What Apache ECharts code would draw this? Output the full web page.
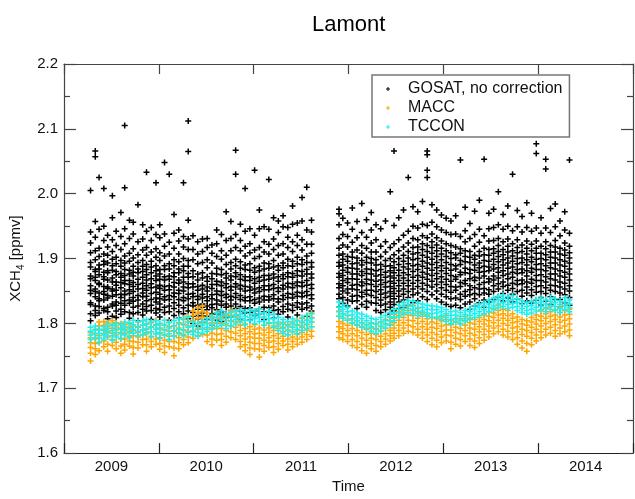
<!DOCTYPE html>
<html><head><meta charset="utf-8">
<script src="https://cdn.jsdelivr.net/npm/echarts@6/dist/echarts.min.js"></script>
<style>html,body{margin:0;padding:0;background:#fff}#c{width:635px;height:499px}</style>
</head><body><div id="c"></div>
<script>
const yearLabels = ['2009','2010','2011','2012','2013','2014'];
const seriesNames = ['GOSAT, no correction','MACC','TCCON'];

const dates = [
2009.28,2009.33,2009.37,2009.42,2009.46,2009.51,2009.55,2009.60,
2009.64,2009.69,2009.73,2009.78,2009.83,2009.87,2009.92,2009.97,
2010.01,2010.06,2010.11,2010.16,2010.21,2010.26,2010.31,
2010.36,2010.41,2010.46,2010.51,2010.56,2010.61,2010.66,2010.71,2010.76,
2010.81,2010.86,2010.91,2010.96,2011.01,2011.06,2011.11,2011.16,2011.21,2011.26,
2011.31,2011.36,2011.41,2011.46,2011.51,2011.56,2011.61,
2011.90,2011.94,2011.99,2012.04,2012.09,2012.14,2012.19,2012.24,2012.29,
2012.34,2012.39,2012.44,2012.48,2012.53,2012.58,2012.63,2012.68,
2012.73,2012.78,2012.83,2012.88,2012.93,2012.98,2013.03,2013.08,
2013.13,2013.18,2013.23,2013.28,2013.33,2013.38,2013.43,2013.48,
2013.53,2013.58,2013.63,2013.68,2013.73,2013.78,2013.83,2013.88,
2013.93,2013.98,2014.03,2014.08,2014.13,2014.18,2014.23,2014.28,2014.33
];

const gosatVals = [
[1.804,1.815,1.829,1.832,1.846,1.851,1.858,1.869,1.873,1.887,1.894,1.909,1.924,1.941,2.005],
[1.812,1.820,1.827,1.841,1.849,1.853,1.866,1.871,1.880,1.883,1.898,1.912,1.933,1.957,2.057,2.066],
[1.816,1.826,1.835,1.838,1.847,1.860,1.862,1.875,1.884,1.890,1.903,1.916,1.945,2.025],
[1.820,1.823,1.836,1.845,1.849,1.857,1.868,1.872,1.879,1.891,1.896,1.907,1.928,1.950,2.008],
[1.807,1.818,1.825,1.839,1.843,1.854,1.856,1.867,1.878,1.881,1.893,1.905,1.918,1.936],
[1.811,1.827,1.830,1.842,1.850,1.853,1.864,1.870,1.882,1.889,1.899,1.911,1.929,1.963,1.997],
[1.809,1.819,1.828,1.833,1.844,1.851,1.859,1.864,1.875,1.880,1.892,1.902,1.920,1.942],
[1.814,1.822,1.831,1.840,1.845,1.855,1.863,1.871,1.877,1.888,1.897,1.914,1.934,1.971],
[1.818,1.828,1.835,1.844,1.850,1.861,1.866,1.874,1.883,1.893,1.904,1.923,1.946,2.009,2.105],
[1.808,1.817,1.831,1.836,1.846,1.852,1.860,1.866,1.876,1.882,1.896,1.908,1.931,1.959],
[1.815,1.825,1.834,1.840,1.849,1.857,1.863,1.873,1.879,1.888,1.901,1.915,1.938,1.956],
[1.804,1.817,1.827,1.836,1.843,1.853,1.860,1.868,1.878,1.884,1.894,1.906,1.926,1.983],
[1.813,1.822,1.830,1.841,1.847,1.854,1.862,1.871,1.880,1.888,1.897,1.913,1.930,1.952],
[1.819,1.826,1.835,1.842,1.851,1.858,1.867,1.875,1.883,1.891,1.905,1.917,1.942,2.033],
[1.806,1.820,1.828,1.837,1.846,1.855,1.861,1.869,1.878,1.887,1.896,1.910,1.928,1.948],
[1.816,1.823,1.833,1.839,1.848,1.856,1.866,1.873,1.881,1.889,1.902,1.915,1.937,2.017],
[1.810,1.821,1.830,1.838,1.845,1.854,1.859,1.868,1.876,1.883,1.897,1.909,1.932,1.952],
[1.817,1.825,1.836,1.841,1.851,1.857,1.867,1.872,1.883,1.889,1.904,1.919,1.938,2.048],
[1.805,1.818,1.827,1.837,1.843,1.852,1.858,1.868,1.873,1.884,1.892,1.907,1.925,2.030],
[1.812,1.823,1.832,1.841,1.847,1.856,1.863,1.872,1.878,1.889,1.898,1.916,1.939,1.968],
[1.808,1.818,1.828,1.837,1.846,1.851,1.862,1.867,1.878,1.884,1.895,1.907,1.927,1.944],
[1.815,1.824,1.835,1.840,1.850,1.856,1.864,1.871,1.881,1.888,1.900,1.918,1.934,2.017],
[1.807,1.819,1.828,1.838,1.845,1.855,1.861,1.871,1.877,1.888,1.897,1.914,1.930,1.959,2.065,2.112],
[1.800,1.811,1.817,1.827,1.832,1.841,1.846,1.856,1.861,1.872,1.881,1.898,1.914,1.935],
[1.796,1.807,1.812,1.822,1.828,1.837,1.842,1.851,1.857,1.867,1.876,1.892,1.907,1.926],
[1.802,1.811,1.816,1.825,1.830,1.839,1.845,1.853,1.859,1.870,1.878,1.894,1.911,1.930],
[1.806,1.811,1.821,1.827,1.835,1.841,1.850,1.856,1.865,1.872,1.886,1.898,1.917,1.931],
[1.798,1.809,1.815,1.824,1.829,1.838,1.844,1.854,1.860,1.869,1.877,1.893,1.908,1.921],
[1.805,1.815,1.821,1.830,1.836,1.845,1.850,1.860,1.865,1.876,1.885,1.903,1.923,1.944],
[1.803,1.812,1.818,1.828,1.834,1.843,1.849,1.858,1.864,1.875,1.883,1.899,1.912,1.937],
[1.809,1.815,1.825,1.830,1.840,1.845,1.855,1.861,1.870,1.877,1.891,1.905,1.928,1.972],
[1.810,1.820,1.827,1.836,1.842,1.851,1.857,1.867,1.873,1.884,1.894,1.912,1.931,1.957],
[1.812,1.823,1.830,1.840,1.846,1.856,1.861,1.872,1.878,1.889,1.899,1.917,1.937,2.030,2.067],
[1.807,1.819,1.826,1.837,1.843,1.853,1.859,1.868,1.875,1.885,1.895,1.912,1.928,1.953],
[1.816,1.823,1.835,1.840,1.850,1.857,1.866,1.872,1.883,1.890,1.904,1.919,1.942,2.008],
[1.805,1.817,1.824,1.835,1.841,1.851,1.856,1.866,1.872,1.882,1.892,1.909,1.923,1.946],
[1.812,1.819,1.831,1.837,1.847,1.853,1.862,1.869,1.879,1.886,1.900,1.913,1.936,2.036],
[1.815,1.822,1.833,1.839,1.849,1.855,1.865,1.871,1.881,1.888,1.903,1.917,1.946,1.975],
[1.806,1.818,1.825,1.836,1.842,1.852,1.858,1.867,1.874,1.884,1.893,1.910,1.926,1.949],
[1.817,1.824,1.836,1.841,1.852,1.858,1.868,1.874,1.885,1.892,1.907,1.922,1.945,2.022],
[1.808,1.820,1.827,1.838,1.844,1.854,1.860,1.870,1.876,1.887,1.897,1.914,1.930,1.963],
[1.814,1.821,1.833,1.838,1.849,1.855,1.865,1.872,1.882,1.889,1.905,1.920,1.940,1.958],
[1.818,1.826,1.837,1.843,1.853,1.859,1.869,1.875,1.886,1.893,1.907,1.923,1.949,1.966],
[1.810,1.822,1.830,1.840,1.846,1.856,1.862,1.872,1.878,1.889,1.899,1.917,1.933,1.948],
[1.820,1.828,1.839,1.845,1.855,1.861,1.871,1.877,1.888,1.896,1.911,1.926,1.953,1.981],
[1.813,1.825,1.832,1.842,1.848,1.858,1.864,1.874,1.881,1.892,1.902,1.920,1.936,1.955],
[1.822,1.830,1.841,1.847,1.857,1.863,1.873,1.880,1.891,1.898,1.913,1.929,1.958,1.994],
[1.811,1.824,1.832,1.843,1.849,1.859,1.866,1.876,1.883,1.894,1.904,1.922,1.944,2.010],
[1.819,1.827,1.838,1.844,1.854,1.860,1.870,1.876,1.887,1.894,1.908,1.922,1.941,1.959],
[1.825,1.838,1.845,1.855,1.861,1.871,1.877,1.888,1.894,1.905,1.916,1.931,1.952,1.969,1.976],
[1.831,1.840,1.850,1.858,1.866,1.874,1.882,1.890,1.899,1.907,1.921,1.937,1.962],
[1.827,1.836,1.847,1.853,1.863,1.869,1.879,1.886,1.896,1.903,1.918,1.934,1.955],
[1.834,1.842,1.853,1.859,1.869,1.876,1.885,1.892,1.902,1.910,1.925,1.945,1.978],
[1.823,1.835,1.843,1.852,1.860,1.868,1.876,1.884,1.893,1.901,1.913,1.932,1.957],
[1.829,1.841,1.848,1.858,1.864,1.874,1.880,1.890,1.897,1.908,1.920,1.940,1.985],
[1.825,1.834,1.845,1.851,1.861,1.868,1.877,1.884,1.894,1.902,1.916,1.933,1.960],
[1.832,1.843,1.851,1.860,1.867,1.876,1.883,1.893,1.900,1.910,1.924,1.944,1.971],
[1.820,1.831,1.840,1.849,1.857,1.865,1.873,1.881,1.890,1.898,1.910,1.929,1.952],
[1.817,1.828,1.836,1.845,1.852,1.860,1.867,1.875,1.883,1.891,1.903,1.919,1.946],
[1.821,1.830,1.840,1.847,1.856,1.863,1.871,1.879,1.888,1.897,1.910,1.926,1.958],
[1.814,1.825,1.833,1.842,1.849,1.857,1.865,1.873,1.881,1.889,1.900,1.917,2.003],
[1.819,1.829,1.838,1.846,1.854,1.862,1.870,1.878,1.886,1.895,1.906,1.923,1.951,2.066],
[1.823,1.833,1.842,1.850,1.858,1.866,1.874,1.882,1.891,1.900,1.912,1.929,1.963],
[1.825,1.836,1.845,1.853,1.862,1.870,1.878,1.887,1.896,1.905,1.918,1.936,1.975],
[1.828,1.840,1.849,1.858,1.866,1.875,1.884,1.892,1.901,1.911,1.924,1.942,2.025],
[1.832,1.844,1.853,1.862,1.871,1.880,1.889,1.898,1.907,1.917,1.931,1.950,1.980],
[1.835,1.847,1.857,1.866,1.874,1.883,1.891,1.900,1.909,1.918,1.929,1.947,1.972],
[1.841,1.853,1.862,1.871,1.879,1.888,1.896,1.905,1.914,1.923,1.935,1.953,1.988],
[1.837,1.849,1.859,1.868,1.876,1.885,1.893,1.902,1.911,1.920,1.932,1.951,2.025,2.036,2.060,2.066],
[1.844,1.856,1.865,1.874,1.882,1.891,1.899,1.908,1.917,1.926,1.938,1.956,1.983],
[1.838,1.850,1.860,1.869,1.877,1.886,1.894,1.903,1.912,1.921,1.932,1.949,1.975],
[1.833,1.845,1.855,1.864,1.872,1.881,1.889,1.898,1.907,1.916,1.927,1.944,1.967],
[1.829,1.841,1.851,1.860,1.868,1.877,1.885,1.894,1.903,1.912,1.923,1.940,1.962],
[1.826,1.838,1.848,1.857,1.865,1.874,1.882,1.891,1.900,1.909,1.920,1.937,1.958],
[1.828,1.839,1.851,1.856,1.868,1.872,1.884,1.889,1.901,1.906,1.918,1.938,1.966],
[1.824,1.837,1.845,1.857,1.863,1.875,1.879,1.891,1.897,1.908,1.915,1.934,2.052],
[1.830,1.842,1.849,1.861,1.866,1.878,1.885,1.895,1.903,1.912,1.926,1.943,1.979],
[1.822,1.833,1.844,1.852,1.858,1.869,1.877,1.883,1.894,1.902,1.911,1.931,1.954],
[1.827,1.838,1.846,1.855,1.866,1.871,1.882,1.890,1.899,1.905,1.919,1.937,1.973],
[1.832,1.844,1.853,1.860,1.870,1.879,1.886,1.893,1.904,1.911,1.925,1.945,1.990],
[1.825,1.836,1.847,1.854,1.863,1.873,1.880,1.888,1.897,1.906,1.916,1.935,2.053],
[1.833,1.845,1.852,1.864,1.869,1.881,1.887,1.896,1.905,1.914,1.927,1.946,1.970],
[1.837,1.849,1.858,1.867,1.873,1.884,1.891,1.899,1.908,1.915,1.928,1.948,1.976],
[1.841,1.853,1.861,1.870,1.879,1.886,1.895,1.903,1.911,1.920,1.931,1.952,2.003],
[1.835,1.846,1.857,1.864,1.874,1.881,1.890,1.898,1.906,1.914,1.926,1.945,1.968],
[1.839,1.851,1.859,1.869,1.876,1.885,1.893,1.901,1.910,1.919,1.930,1.950,1.981],
[1.833,1.845,1.854,1.862,1.871,1.879,1.887,1.896,1.904,1.912,1.923,1.943,2.030],
[1.838,1.849,1.860,1.866,1.877,1.883,1.892,1.900,1.909,1.917,1.929,1.949,1.974],
[1.830,1.842,1.851,1.861,1.867,1.878,1.884,1.894,1.901,1.911,1.921,1.941,1.965],
[1.835,1.847,1.856,1.864,1.873,1.881,1.890,1.898,1.907,1.916,1.927,1.948,1.986],
[1.831,1.843,1.852,1.862,1.868,1.879,1.885,1.895,1.902,1.912,1.922,1.942,1.970],
[1.836,1.848,1.857,1.866,1.874,1.883,1.891,1.899,1.908,1.916,1.927,1.947,2.062,2.077],
[1.828,1.840,1.849,1.858,1.866,1.875,1.883,1.892,1.900,1.908,1.919,1.939,1.963],
[1.834,1.846,1.855,1.864,1.872,1.881,1.889,1.898,1.906,1.915,1.926,1.947,2.038,2.053],
[1.829,1.841,1.851,1.859,1.869,1.876,1.886,1.893,1.902,1.910,1.920,1.940,1.977],
[1.837,1.849,1.858,1.867,1.876,1.884,1.893,1.901,1.910,1.918,1.928,1.949,1.984],
[1.825,1.837,1.847,1.856,1.864,1.873,1.881,1.890,1.898,1.907,1.916,1.935,1.958],
[1.832,1.844,1.853,1.862,1.871,1.879,1.888,1.896,1.905,1.913,1.924,1.944,1.972],
[1.828,1.840,1.850,1.858,1.867,1.876,1.884,1.893,1.901,1.909,1.919,1.939,2.052]
];

const maccVals = [
[1.742,1.754,1.763,1.770,1.778,1.786],[1.752,1.761,1.769,1.776,1.784,1.791],[1.758,1.770,1.781,1.790,1.796,1.802],
[1.764,1.773,1.784,1.791,1.797,1.803],[1.757,1.768,1.779,1.788,1.795,1.801],[1.766,1.775,1.785,1.792,1.798,1.804],
[1.761,1.771,1.782,1.790,1.796,1.801],[1.754,1.765,1.776,1.786,1.793,1.800],
[1.759,1.768,1.776,1.784,1.791,1.798],[1.765,1.773,1.780,1.787,1.794,1.800],[1.753,1.763,1.772,1.781,1.789,1.796],
[1.762,1.771,1.779,1.786,1.794,1.802],[1.767,1.775,1.782,1.790,1.797,1.804],[1.757,1.767,1.776,1.784,1.791,1.799],
[1.764,1.772,1.779,1.787,1.794,1.801],[1.768,1.776,1.784,1.791,1.798,1.805],
[1.760,1.769,1.777,1.785,1.792,1.800],[1.755,1.765,1.774,1.782,1.790,1.797],[1.764,1.772,1.780,1.788,1.795,1.802],
[1.750,1.762,1.772,1.781,1.789,1.796],[1.761,1.770,1.778,1.786,1.793,1.801],[1.767,1.775,1.783,1.790,1.798,1.806],
[1.770,1.779,1.788,1.796,1.803,1.811],
[1.777,1.787,1.796,1.804,1.812,1.819],[1.781,1.791,1.800,1.808,1.816,1.824],[1.783,1.793,1.802,1.810,1.818,1.827],
[1.772,1.782,1.791,1.800,1.808,1.816],[1.767,1.776,1.785,1.793,1.801,1.809],[1.774,1.783,1.792,1.800,1.809,1.817],
[1.766,1.775,1.784,1.792,1.800,1.808],[1.771,1.780,1.789,1.797,1.805,1.813],[1.778,1.787,1.796,1.804,1.812,1.820],
[1.775,1.785,1.794,1.802,1.810,1.818],[1.764,1.772,1.781,1.789,1.797,1.804],[1.758,1.767,1.776,1.784,1.792,1.799],
[1.752,1.762,1.771,1.779,1.787,1.795],[1.761,1.769,1.777,1.784,1.791,1.798],[1.748,1.760,1.769,1.777,1.785,1.793],
[1.757,1.766,1.774,1.782,1.790,1.797],[1.763,1.771,1.778,1.786,1.793,1.800],[1.755,1.764,1.773,1.781,1.789,1.796],
[1.760,1.769,1.777,1.784,1.792,1.799],
[1.766,1.773,1.780,1.787,1.794,1.801],[1.759,1.768,1.776,1.783,1.790,1.798],[1.764,1.772,1.779,1.787,1.794,1.802],
[1.768,1.776,1.783,1.790,1.798,1.805],[1.771,1.779,1.786,1.794,1.801,1.808],[1.775,1.783,1.790,1.798,1.805,1.812],
[1.780,1.788,1.795,1.802,1.809,1.816],
[1.778,1.787,1.795,1.803,1.811,1.819],[1.775,1.784,1.792,1.800,1.808,1.815],[1.772,1.781,1.789,1.797,1.805,1.812],
[1.766,1.775,1.784,1.792,1.800,1.807],[1.763,1.772,1.781,1.789,1.797,1.804],[1.758,1.768,1.777,1.786,1.794,1.801],
[1.754,1.765,1.774,1.783,1.791,1.798],[1.761,1.769,1.777,1.785,1.793,1.800],[1.757,1.766,1.775,1.783,1.791,1.799],
[1.764,1.772,1.780,1.788,1.795,1.802],[1.768,1.776,1.784,1.792,1.799,1.806],[1.773,1.781,1.789,1.797,1.804,1.810],
[1.777,1.785,1.793,1.801,1.808,1.814],[1.781,1.789,1.797,1.805,1.812,1.818],[1.785,1.793,1.801,1.809,1.816,1.823],
[1.788,1.797,1.805,1.813,1.820,1.827],[1.786,1.795,1.804,1.812,1.820,1.828],
[1.782,1.791,1.800,1.808,1.816,1.823],[1.777,1.786,1.795,1.803,1.811,1.817],[1.772,1.782,1.791,1.799,1.807,1.813],
[1.767,1.777,1.786,1.794,1.802,1.809],[1.764,1.774,1.783,1.792,1.800,1.807],[1.770,1.779,1.788,1.796,1.804,1.810],
[1.773,1.782,1.790,1.798,1.806,1.812],[1.761,1.771,1.781,1.790,1.798,1.805],
[1.768,1.777,1.786,1.794,1.802,1.808],[1.765,1.775,1.784,1.792,1.800,1.807],[1.772,1.781,1.789,1.797,1.805,1.811],
[1.766,1.776,1.785,1.793,1.801,1.808],[1.763,1.773,1.782,1.791,1.799,1.806],[1.769,1.778,1.787,1.795,1.803,1.809],
[1.774,1.783,1.791,1.799,1.806,1.813],[1.779,1.788,1.796,1.804,1.811,1.818],
[1.784,1.793,1.801,1.809,1.816,1.823],[1.787,1.796,1.805,1.813,1.820,1.828],[1.782,1.791,1.800,1.808,1.815,1.822],
[1.779,1.788,1.797,1.805,1.812,1.820],[1.775,1.784,1.793,1.801,1.808,1.815],[1.768,1.778,1.787,1.795,1.803,1.810],
[1.762,1.773,1.783,1.791,1.799,1.806],[1.757,1.769,1.780,1.789,1.797,1.804],
[1.767,1.777,1.786,1.794,1.802,1.809],[1.773,1.782,1.791,1.799,1.806,1.813],[1.778,1.787,1.796,1.804,1.811,1.819],
[1.782,1.791,1.800,1.808,1.815,1.823],[1.785,1.794,1.803,1.811,1.818,1.826],[1.780,1.789,1.798,1.806,1.813,1.821],
[1.784,1.793,1.802,1.810,1.817,1.825],[1.787,1.796,1.805,1.813,1.820,1.828],[1.781,1.790,1.799,1.807,1.814,1.822]
];

const tcconVals = [
[1.775,1.782,1.788,1.794],[1.778,1.784,1.790,1.796],[1.771,1.778,1.785,1.791],[1.776,1.782,1.789,1.795],
[1.780,1.786,1.792,1.799],[1.774,1.781,1.789,1.797],[1.779,1.786,1.793,1.800],[1.777,1.784,1.791,1.798],
[1.782,1.789,1.795,1.802],[1.778,1.786,1.793,1.801],[1.785,1.791,1.798,1.805],[1.781,1.788,1.795,1.803],
[1.783,1.790,1.797,1.804],[1.786,1.792,1.799,1.806],[1.780,1.787,1.795,1.802],[1.784,1.791,1.797,1.804],
[1.778,1.786,1.793,1.800],[1.782,1.790,1.797,1.805],[1.775,1.784,1.793,1.801],[1.780,1.788,1.796,1.804],
[1.784,1.791,1.799,1.807],[1.781,1.790,1.799,1.808],[1.786,1.794,1.802,1.810],
[1.783,1.789,1.796,1.802],[1.780,1.786,1.793,1.800],[1.785,1.791,1.797,1.803],[1.788,1.794,1.800,1.807],
[1.791,1.798,1.805,1.811],[1.795,1.802,1.809,1.816],[1.797,1.805,1.812,1.819],[1.792,1.800,1.808,1.815],
[1.796,1.803,1.810,1.817],
[1.799,1.806,1.812,1.819],[1.802,1.808,1.814,1.820],[1.798,1.805,1.811,1.818],[1.804,1.809,1.815,1.821],
[1.800,1.807,1.813,1.819],[1.803,1.809,1.815,1.822],[1.797,1.804,1.810,1.817],[1.801,1.807,1.813,1.819],
[1.794,1.801,1.807,1.814],[1.789,1.796,1.802,1.809],
[1.785,1.792,1.799,1.806],[1.782,1.789,1.796,1.803],[1.787,1.794,1.800,1.807],[1.784,1.791,1.797,1.804],
[1.789,1.796,1.802,1.809],[1.792,1.799,1.805,1.812],[1.795,1.802,1.808,1.815],
[1.811,1.818,1.825,1.833],[1.808,1.815,1.822,1.829],[1.805,1.812,1.818,1.825],[1.801,1.807,1.813,1.819],
[1.798,1.804,1.810,1.816],[1.795,1.801,1.807,1.814],[1.792,1.798,1.804,1.811],[1.788,1.795,1.801,1.808],
[1.785,1.792,1.799,1.806],
[1.789,1.796,1.802,1.809],[1.793,1.799,1.805,1.812],[1.798,1.804,1.810,1.817],[1.804,1.810,1.816,1.822],
[1.810,1.816,1.822,1.828],[1.814,1.820,1.826,1.832],[1.817,1.823,1.829,1.835],[1.815,1.821,1.827,1.834],
[1.812,1.818,1.824,1.831],[1.814,1.819,1.825,1.830],[1.811,1.816,1.822,1.828],[1.809,1.815,1.821,1.827],
[1.810,1.816,1.821,1.826],[1.806,1.812,1.818,1.824],[1.803,1.809,1.815,1.821],[1.800,1.806,1.812,1.818],
[1.802,1.807,1.813,1.819],[1.799,1.805,1.811,1.817],[1.803,1.808,1.814,1.820],[1.806,1.812,1.818,1.823],
[1.809,1.815,1.821,1.827],[1.812,1.818,1.824,1.830],[1.815,1.821,1.827,1.832],[1.818,1.824,1.830,1.836],
[1.821,1.827,1.833,1.839],[1.824,1.830,1.836,1.842],[1.826,1.832,1.838,1.844],[1.823,1.829,1.835,1.841],
[1.825,1.831,1.837,1.843],[1.820,1.826,1.832,1.838],[1.817,1.823,1.829,1.835],[1.814,1.820,1.826,1.832],
[1.816,1.822,1.828,1.834],[1.819,1.825,1.831,1.837],[1.821,1.827,1.833,1.839],[1.818,1.824,1.830,1.836],
[1.822,1.828,1.834,1.840],[1.820,1.826,1.832,1.838],[1.817,1.823,1.829,1.835],[1.821,1.827,1.833,1.839],
[1.818,1.824,1.830,1.836]
];

function toPoints(vals) {
  const out = [];
  dates.forEach((d, i) => vals[i].forEach(v => out.push([d, v])));
  return out;
}

const FONT = '"Liberation Sans", Arial, Helvetica, sans-serif';
const PLUS = 'path://M2.25,0H3.75V2.25H6V3.75H3.75V6H2.25V3.75H0V2.25H2.25Z';
const colors = ['#000000', '#FFA500', '#1EEEEE'];
const axisCol = '#444';

const chart = echarts.init(document.getElementById('c'), null, {renderer: 'canvas'});
const yCommon = {
  type: 'value', min: 1.6, max: 2.2, interval: 0.1,
  axisLine: {show: true, lineStyle: {color: axisCol, width: 1.2}},
  axisTick: {show: true, inside: true, length: 12, lineStyle: {color: axisCol, width: 1.2}},
  minorTick: {show: true, splitNumber: 2, length: 6, lineStyle: {color: axisCol, width: 1.2}},
  splitLine: {show: false}
};
chart.setOption({
  animation: false,
  backgroundColor: '#fff',
  textStyle: {fontFamily: FONT},
  title: {
    text: 'Lamont', left: 307, top: 9,
    textStyle: {fontFamily: FONT, fontSize: 22, fontWeight: 'normal', color: '#000'}
  },
  legend: {
    left: 372, top: 75,
    orient: 'vertical',
    data: seriesNames,
    icon: PLUS,
    itemWidth: 30, itemHeight: 4,
    itemGap: 3,
    padding: [6, 7, 2, 14],
    borderColor: '#777', borderWidth: 1.5,
    backgroundColor: '#fff',
    textStyle: {fontFamily: FONT, fontSize: 16, color: '#111', lineHeight: 16},
    selectedMode: false
  },
  grid: {left: 64, right: 2, top: 64, bottom: 36, containLabel: false},
  xAxis: [
    {
      type: 'category', data: yearLabels, position: 'bottom', boundaryGap: true,
      axisLine: {show: true, lineStyle: {color: '#222', width: 1.2}},
      axisTick: {show: true, inside: true, length: 10, lineStyle: {color: '#222', width: 1.2}},
      axisLabel: {fontFamily: FONT, fontSize: 15, color: '#111', margin: 6},
      splitLine: {show: false},
      name: 'Time', nameLocation: 'middle', nameGap: 21,
      nameTextStyle: {fontFamily: FONT, fontSize: 15, color: '#111'}
    },
    {type: 'value', min: 2009, max: 2015, show: false, position: 'top'},
    {
      type: 'category', data: yearLabels, position: 'top', boundaryGap: true,
      axisLine: {show: true, lineStyle: {color: '#444', width: 1.2}},
      axisTick: {show: true, inside: true, length: 10, lineStyle: {color: '#444', width: 1.2}},
      axisLabel: {show: false}, splitLine: {show: false}
    }
  ],
  yAxis: [
    Object.assign({}, yCommon, {
      position: 'left',
      axisLabel: {fontFamily: FONT, fontSize: 15, color: '#111', margin: 6, formatter: v => v.toFixed(1)},
      name: '{a|XCH}{s|4}{a| [ppmv]}', nameLocation: 'middle', nameGap: 34, nameRotate: 90,
      nameTextStyle: {
        fontFamily: FONT, fontSize: 15, color: '#111',
        rich: {
          a: {fontFamily: FONT, fontSize: 15, color: '#111', lineHeight: 20},
          s: {fontFamily: FONT, fontSize: 10, color: '#111', lineHeight: 10, verticalAlign: 'bottom'}
        }
      }
    }),
    Object.assign({}, yCommon, {position: 'right', axisLabel: {show: false}})
  ],
  series: seriesNames.map((name, k) => ({
    name: name,
    type: 'scatter',
    xAxisIndex: 1, yAxisIndex: 0,
    symbol: PLUS, symbolSize: 6,
    itemStyle: {color: colors[k], opacity: 1},
    silent: true,
    emphasis: {disabled: true},
    data: toPoints([gosatVals, maccVals, tcconVals][k])
  }))
});
</script>
</body></html>
